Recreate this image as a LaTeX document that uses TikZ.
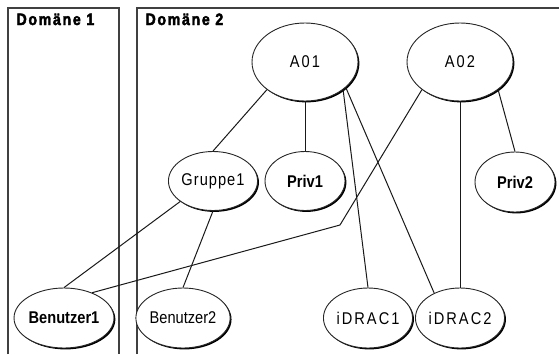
\documentclass[tikz,border=0pt]{standalone}
\usepackage{fontspec}
\setmainfont{Liberation Sans}[FakeStretch=0.86]
\newfontfamily\spacedfont{Liberation Sans}[FakeStretch=0.86, LetterSpace=6]
\newfontfamily\widefont{Liberation Sans}[FakeStretch=0.86, LetterSpace=12]
\newfontfamily\domainfont{Liberation Sans Bold}[FakeStretch=0.86, LetterSpace=10, FakeBold=2.5]
\usetikzlibrary{shapes.geometric,shadows}

\begin{document}
\begin{tikzpicture}[x=1pt, y=-1pt,
  every node/.style={font=\fontsize{17}{19}\selectfont},
  obj/.style={ellipse, draw=black!85, line width=0.9pt, fill=white, inner sep=0pt,
    drop shadow={shadow xshift=1.4pt, shadow yshift=-1.4pt, opacity=1, fill=black}},
  big/.style={obj, minimum width=106, minimum height=78},
  small/.style={obj, minimum width=80, minimum height=59},
  link/.style={line width=1pt, black!90},
  domainline/.style={line width=1.5pt, black!75}]
  \useasboundingbox (0,0) rectangle (559,354);

  % Domains
  \draw[domainline] (8,354) -- (8,8) -- (119,8) -- (119,354);
  \draw[domainline] (137,354) -- (137,8) -- (559,8);
  \node[anchor=base west, font=\domainfont\fontsize{16.5}{18}\selectfont] (dom1) at (13,25) {Domäne 1};
  \node[anchor=base west, font=\domainfont\fontsize{16.5}{18}\selectfont] (dom2) at (142,25) {Domäne 2};

  % Associations
  \node[big] (a01) at (305,62) {\widefont A01};
  \node[big] (a02) at (460,62) {\widefont A02};

  % Groups and privileges
  \node[small] (grp1) at (213,181) {\spacedfont Gruppe1};
  \node[small] (priv1) at (305,181) {\bfseries Priv1};
  \node[small, minimum height=60] (priv2) at (515,182) {\bfseries Priv2};

  % Users and devices
  \node[small, minimum width=82, minimum height=60] (user1) at (64,318) {\bfseries Benutzer1};
  \node[small, minimum height=60] (user2) at (183,318) {Benutzer2};
  \node[small, minimum height=60] (idrac1) at (368,318) {\widefont iDRAC1};
  \node[small, minimum height=60] (idrac2) at (460,318) {\widefont iDRAC2};

  % Links
  \coordinate (bend) at (340,225);
  \draw[link] (a01.216) -- (grp1.north);
  \draw[link] (a01.south) -- (priv1.north);
  \draw[link] (a01.324) -- (idrac1.north);
  \draw[link] (a01.328) -- (idrac2.136);
  \draw[link] (a02.324) -- (priv2.north);
  \draw[link] (a02.south) -- (idrac2.north);
  \draw[link] (a02.216) -- (bend) -- (user1.42);
  \draw[link] (grp1.212) -- (user1.north);
  \draw[link] (grp1.south) -- (user2.north);
\end{tikzpicture}
\end{document}
